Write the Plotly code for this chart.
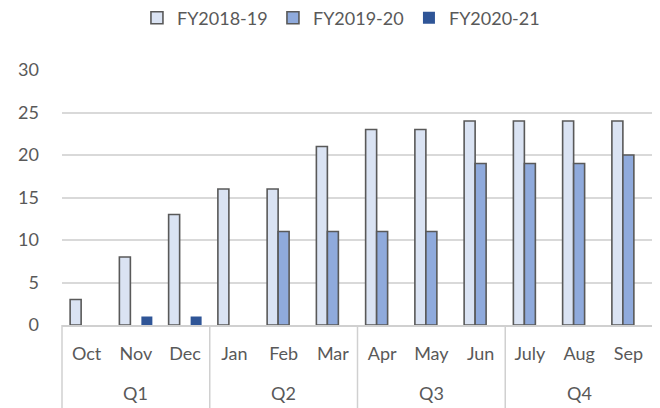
import plotly.graph_objects as go

months = ["Oct", "Nov", "Dec", "Jan", "Feb", "Mar", "Apr", "May", "Jun", "July", "Aug", "Sep"]
quarters = ["Q1", "Q2", "Q3", "Q4"]
quarter_size = 3
fy1819 = [3, 8, 13, 16, 16, 21, 23, 23, 24, 24, 24, 24]
fy1920 = [None, None, None, None, 11, 11, 11, 11, 19, 19, 19, 20]
fy2021 = [None, 1, 1, None, None, None, None, None, None, None, None, None]

FONT = "Lato, Open Sans, sans-serif"
GRAY = "#595959"
LINE = "#d0d0d0"

fig = go.Figure()
fig.add_trace(go.Bar(name="FY2018-19", x=months, y=fy1819,
                     marker=dict(color="#dae3f3", line=dict(color=GRAY, width=1.6))))
fig.add_trace(go.Bar(name="FY2019-20", x=months, y=fy1920,
                     marker=dict(color="#8faadc", line=dict(color=GRAY, width=1.6))))
fig.add_trace(go.Bar(name="FY2020-21", x=months, y=fy2021,
                     marker=dict(color="#2f5597", line=dict(color="#2f5597", width=0))))

n = len(months)
shapes = []
for k in range(len(quarters) + 1):
    xf = k * quarter_size / n
    shapes.append(dict(type="line", xref="paper", yref="paper", x0=xf, x1=xf,
                       y0=0, y1=-0.4, line=dict(color=LINE, width=1.5), layer="above"))
annotations = []
for k, q in enumerate(quarters):
    xf = (k * quarter_size + quarter_size / 2) / n
    annotations.append(dict(text=q, xref="paper", yref="paper", x=xf, y=-0.268,
                            xanchor="center", yanchor="middle", showarrow=False,
                            font=dict(family=FONT, size=18, color=GRAY)))

fig.update_layout(
    width=652, height=400,
    margin=dict(l=54, r=7, t=62, b=83, autoexpand=False),
    paper_bgcolor="white", plot_bgcolor="white",
    font=dict(family=FONT, size=18, color=GRAY),
    barmode="group", bargap=0.33, bargroupgap=0,
    legend=dict(orientation="h", x=0.472, xanchor="center", y=1.204, yanchor="middle",
                font=dict(family=FONT, size=18, color=GRAY), traceorder="normal",
                itemwidth=30, entrywidth=91),
    showlegend=True,
    shapes=shapes,
    annotations=annotations,
)
fig.update_yaxes(range=[0, 30], dtick=5, showgrid=True, gridcolor="#d9d9d9", gridwidth=1.5,
                 zeroline=False, showline=False, ticks="", ticklabelstandoff=22)
fig.update_xaxes(showline=True, linecolor=LINE, linewidth=1.5, ticks="",
                 ticklabelstandoff=12, automargin=False, range=[-0.5, n - 0.5])
fig.write_html("out.html")
